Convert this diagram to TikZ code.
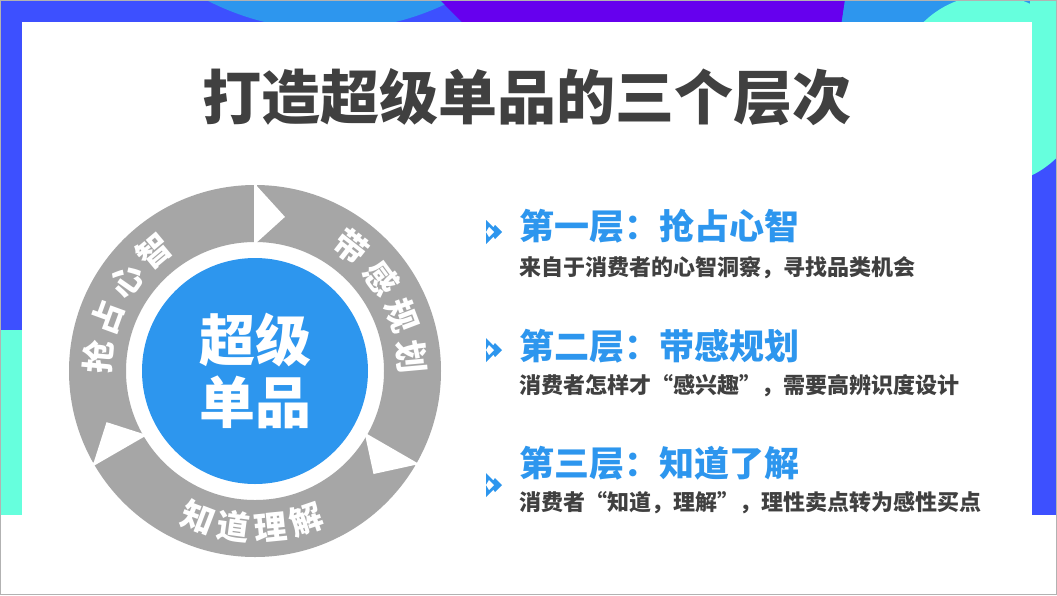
\documentclass[tikz,border=0pt]{standalone}
\usepackage{fontspec}
\usetikzlibrary{calc}
\newfontfamily\cjk{Noto Sans CJK SC}[BoldFont={* Bold}]
\newfontfamily\cjkblack{Noto Sans CJK SC Black}
\definecolor{bgblue}{HTML}{3D50FF}
\definecolor{lblue}{HTML}{2D96EE}
\definecolor{purp}{HTML}{6600EE}
\definecolor{cyan2}{HTML}{66FFDD}
\definecolor{ring}{HTML}{A6A6A6}
\definecolor{txt}{HTML}{404040}
\tikzset{
  ringlab/.style={font=\cjkblack\fontsize{33}{33}\selectfont, text=white, inner sep=0pt},
  head/.style={font=\cjkblack\fontsize{35}{35}\selectfont, text=lblue, anchor=west, inner sep=0pt},
  sub/.style={font=\cjkblack\fontsize{22}{22}\selectfont, text=txt, anchor=west, inner sep=0pt},
}
\begin{document}
\begin{tikzpicture}[x=1pt,y=-1pt]
\useasboundingbox (0,0) rectangle (1057,595);
% background band
\begin{scope}
\clip (0,0) rectangle (1057,515);
\fill[bgblue] (0,0) rectangle (1057,515);
\fill[cyan2] (0,330) rectangle (30,515);
\fill[lblue] (330,-240) circle (270);
\fill[purp] (440,0) .. controls (480,40) and (500,60) .. (510,100) -- (830,100) -- (845,0) -- cycle;
\fill[lblue] (845,0) -- (1057,0) -- (1057,100) -- (830,100) -- cycle;
\fill[cyan2] (990,90) circle (95);
\fill[cyan2] (1030,0) rectangle (1057,100);
\end{scope}
\fill[white] (22,22) rectangle (1032,595);
\draw[gray!60, line width=1pt] (0.5,0.5) rectangle (1056.5,594.5);
% title
\node[font=\cjkblack\fontsize{59}{59}\selectfont, text=txt, inner sep=0pt] (title) at (527,97) {打造超级单品的三个层次};
% ring
\begin{scope}[shift={(255,371)}, y=1pt]
\coordinate (c) at (0,0);
\fill[ring, even odd rule] (c) circle (186) (c) circle (129);
\foreach \a in {90,-30,210}{
  \draw[white, line width=3pt] (\a:124) -- (\a:192);
  \fill[white] (\a:127) -- (\a-11:157) -- (\a:187) -- cycle;
}
\fill[lblue] (c) circle (113);
\node[font=\cjkblack\fontsize{56}{56}\selectfont, text=white, align=center, inner sep=0pt] (center) at (c) {超级\\[6pt]单品};
\foreach \ch [count=\i] in {抢,占,心,智}{
  \pgfmathsetmacro\ang{175-15*(\i-1)}
  \node[ringlab, rotate=\ang-90] (l1\i) at (\ang:157) {\ch};
}
\foreach \ch [count=\i] in {带,感,规,划}{
  \pgfmathsetmacro\ang{52-15.6*(\i-1)}
  \node[ringlab, rotate=\ang-90] (l2\i) at (\ang:157) {\ch};
}
\foreach \ch [count=\i] in {知,道,理,解}{
  \pgfmathsetmacro\ang{249+13.3*(\i-1)}
  \node[ringlab, rotate=\ang+90] (l3\i) at (\ang:157) {\ch};
}
\end{scope}
% right items
\foreach \y/\n in {232/a,350/b,485/c}{
  \fill[lblue] (486,\y-12) -- (498,\y) -- (486,\y+12) -- cycle;
  \fill[lblue] (495,\y-7) -- (502,\y) -- (495,\y+7) -- (490,\y) -- cycle;
  \fill[white] (489,\y-5) -- (494,\y) -- (489,\y+5) -- (486,\y) -- cycle;
}
\node[head] (h1) at (519,226) {第一层：抢占心智};
\node[sub] (s1) at (519,268) {来自于消费者的心智洞察，寻找品类机会};
\node[head] (h2) at (519,346) {第二层：带感规划};
\node[sub] (s2) at (519,386) {消费者怎样才“感兴趣”，需要高辨识度设计};
\node[head] (h3) at (519,463) {第三层：知道了解};
\node[sub] (s3) at (519,503) {消费者“知道，理解”，理性卖点转为感性买点};
\end{tikzpicture}
\end{document}
